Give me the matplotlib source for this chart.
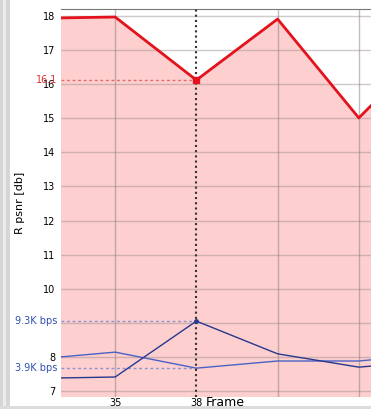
from matplotlib import pyplot as plt
from matplotlib.patches import Rectangle

# frame numbers and per-frame values
frames = [32, 35, 38, 41, 44, 47]
psnr = [17.93, 17.97, 16.12, 17.91, 15.01, 17.4]
rate_a = [7.93, 8.14, 7.67, 7.88, 7.88, 8.1]
rate_b = [7.37, 7.41, 9.05, 8.09, 7.70, 7.9]

yticks = [7, 8, 9, 10, 11, 12, 13, 14, 15, 16, 17, 18]
ytick_labels = ["7", "8", "", "10", "11", "12", "13", "14", "15", "16", "17", "18"]
xticks = [35, 38]
xtick_labels = ["35", "38"]
grid_frames = [35, 41, 44]
sel_frame = 38
sel_psnr = "16.1"
sel_rate_hi = "9.3K bps"
sel_rate_lo = "3.9K bps"

fig = plt.figure(figsize=(3.71, 4.09), dpi=100)
fig.patch.set_facecolor("white")
# window chrome on the left and bottom
fig.patches.append(Rectangle((0, 0), 10 / 371, 1, transform=fig.transFigure,
                             facecolor="#d6d6d6", edgecolor="none", zorder=0))
fig.patches.append(Rectangle((3 / 371, 0), 3 / 371, 1, transform=fig.transFigure,
                             facecolor="#ececec", edgecolor="none", zorder=0))
fig.patches.append(Rectangle((0, 0), 1, 3 / 409, transform=fig.transFigure,
                             facecolor="#dcdcdc", edgecolor="none", zorder=0))

ax = fig.add_axes([61 / 371, 12 / 409, 310 / 371, 388 / 409])
ax.set_xlim(33, 44.45)
ax.set_ylim(6.824, 18.205)

ax.fill_between(frames, psnr, 6.0, color="#fdcfcf", lw=0, zorder=1)
ax.plot(frames, psnr, color="#e3121c", lw=2, zorder=5)
ax.plot(frames, rate_a, color="#4a62c4", lw=1, zorder=5)
ax.plot(frames, rate_b, color="#26388f", lw=1, zorder=5)

for y in yticks:
    ax.axhline(y, color="#9a8a8a", lw=1, alpha=0.45, zorder=2)
for x in grid_frames:
    ax.axvline(x, color="#8a7a7a", lw=1, alpha=0.5, zorder=2)
ax.axvline(sel_frame, color="#333333", lw=1.5, ls=(0, (1, 1.5)), zorder=6)

# selection markers and guide lines
i = frames.index(sel_frame)
ax.plot([33, sel_frame], [psnr[i]] * 2, color="#e36a6a", lw=1, ls=(0, (2, 2)), zorder=4)
ax.plot([33, sel_frame], [rate_b[i]] * 2, color="#8a94d0", lw=1, ls=(0, (2, 2)), zorder=4)
ax.plot([33, sel_frame], [rate_a[i]] * 2, color="#8a94d0", lw=1, ls=(0, (2, 2)), zorder=4)
ax.plot(sel_frame, psnr[i], "s", color="#e3121c", ms=4, zorder=7)
ax.plot(sel_frame, rate_b[i], "o", color="#26388f", ms=2.5, zorder=7)

ax.set_yticks(yticks)
ax.set_yticklabels(ytick_labels, fontsize=7)
ax.set_xticks(xticks)
ax.set_xticklabels(xtick_labels, fontsize=7)
ax.tick_params(length=0, pad=4)
ax.tick_params(axis="x", pad=0.5)

tr = ax.get_yaxis_transform()
ax.text(-0.012, psnr[i], sel_psnr, transform=tr, ha="right", va="center",
        fontsize=7, color="#e03030")
ax.text(-0.012, rate_b[i], sel_rate_hi, transform=tr, ha="right", va="center",
        fontsize=7, color="#3050b0")
ax.text(-0.012, rate_a[i], sel_rate_lo, transform=tr, ha="right", va="center",
        fontsize=7, color="#3050b0")

ax.set_ylabel("R psnr [db]", fontsize=8)
ax.yaxis.set_label_coords(-36 / 310, 0.5)
ax.text(39.07, -6 / 388, "Frame", transform=ax.get_xaxis_transform(),
        ha="center", va="center", fontsize=9)

for side in ["left", "bottom", "right"]:
    ax.spines[side].set_visible(False)
ax.spines["top"].set_color("#777777")

fig.savefig("out.png", dpi=100)
